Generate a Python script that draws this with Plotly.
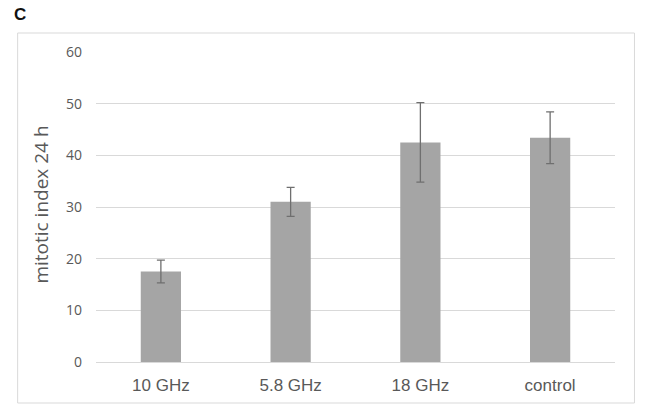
import plotly.graph_objects as go

# Mitotic index after 24 h for each exposure group
groups = ["10 GHz", "5.8 GHz", "18 GHz", "control"]
mitotic_index = [17.5, 31.0, 42.5, 43.4]
std_err = [2.2, 2.8, 7.7, 5.0]
y_ticks = [0, 10, 20, 30, 40, 50, 60]
y_title = "mitotic index 24 h"

W, H = 645, 412
L, R, T, B = 95.5, 29.5, 52, 50
pw, ph = W - L - R, H - T - B

def px_to_paper_x(px):
    return (px - L) / pw

def px_to_paper_y(py):
    return (H - B - py) / ph

fig = go.Figure(
    go.Bar(
        x=groups,
        y=mitotic_index,
        marker=dict(color="#a5a5a5", line=dict(width=0)),
        error_y=dict(type="data", array=std_err, visible=True,
                     color="#6f6f6f", thickness=1.3, width=4),
    )
)

fig.update_layout(
    width=W, height=H,
    margin=dict(l=L, r=R, t=T, b=B, autoexpand=False),
    paper_bgcolor="white", plot_bgcolor="white",
    bargap=0.69,
    showlegend=False,
    font=dict(family="Liberation Sans, Arial, sans-serif", color="#595959"),
    xaxis=dict(
        showgrid=False, showline=False, zeroline=False,
        tickfont=dict(family="Liberation Sans, Arial, sans-serif", size=17, color="#595959"),
        ticklabelstandoff=11,
        fixedrange=True,
    ),
    yaxis=dict(
        range=[0, 60], tickvals=y_ticks,
        showgrid=True, gridcolor="#d9d9d9", gridwidth=1,
        zeroline=True, zerolinecolor="#d9d9d9", zerolinewidth=1,
        showline=False,
        tickfont=dict(family="Open Sans, sans-serif", size=14, color="#595959"),
        ticklabelstandoff=13,
        automargin=False,
    ),
    shapes=[
        dict(type="rect", xref="paper", yref="paper",
             x0=px_to_paper_x(17), x1=px_to_paper_x(635),
             y0=px_to_paper_y(403), y1=px_to_paper_y(33),
             line=dict(color="#d9d9d9", width=1), fillcolor="rgba(0,0,0,0)",
             layer="below"),
    ],
    annotations=[
        dict(text="<b>C</b>", xref="paper", yref="paper",
             x=px_to_paper_x(11), y=px_to_paper_y(15),
             xanchor="left", yanchor="middle", showarrow=False,
             font=dict(family="Liberation Sans, Arial, sans-serif", size=17, color="#111111")),
        dict(text=y_title, xref="paper", yref="paper",
             x=px_to_paper_x(55), y=px_to_paper_y(205),
             xanchor="right", yanchor="middle", textangle=-90, showarrow=False,
             font=dict(family="Open Sans, sans-serif", size=19, color="#595959")),
    ],
)

fig.write_html("out.html")
